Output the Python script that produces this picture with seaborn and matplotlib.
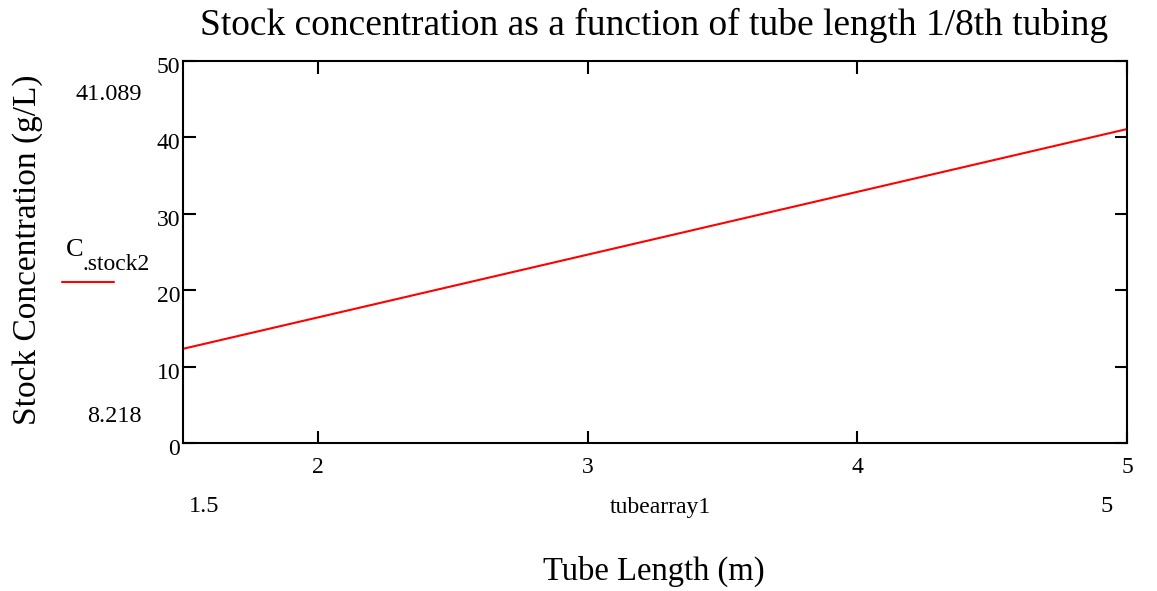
import numpy as np
import pandas as pd
import seaborn as sns
import matplotlib.pyplot as plt
from matplotlib.lines import Line2D
import matplotlib.transforms as mtransforms

# tube length (m) and stock concentration (g/L)
tube_length = [1.0, 2.0, 3.0, 4.0, 5.0]
c_stock2 = [8.218, 16.436, 24.653, 32.871, 41.089]

x_ticks = [2, 3, 4, 5]
y_ticks = [0, 10, 20, 30, 40, 50]

df = pd.DataFrame({'tube': tube_length, 'conc': c_stock2})

sns.set_style('white')
plt.rcParams['font.family'] = ['Liberation Serif', 'DejaVu Serif']
plt.rcParams['text.color'] = 'black'
plt.rcParams['axes.labelcolor'] = 'black'

W, H = 1157, 591
fig = plt.figure(figsize=(W / 100, H / 100), dpi=100)
ax = fig.add_axes([183 / W, 1 - 443 / H, (1127 - 183) / W, (443 - 61) / H])

sns.lineplot(data=df, x='tube', y='conc', color='red', linewidth=1.5, ax=ax)

ax.set_xlim(1.5, 5)
ax.set_ylim(0, 50)
ax.set_xticks(x_ticks)
ax.set_yticks(y_ticks)
ax.set_xlabel('')
ax.set_ylabel('')
for s in ax.spines.values():
    s.set_linewidth(1.5)
    s.set_color('black')
ax.tick_params(axis='both', direction='in', length=9, width=1.5, labelsize=17,
               top=True, right=True, bottom=True, left=True,
               colors='black', labelcolor='black')
ax.tick_params(axis='x', pad=10)
ax.tick_params(axis='y', pad=2)
off = mtransforms.ScaledTranslation(0, -4 / 100, fig.dpi_scale_trans)
for lab in ax.get_yticklabels():
    lab.set_transform(lab.get_transform() + off)

def fx(px):
    return px / W

def fy(py):
    return 1 - py / H

fig.text(fx(654), fy(25), 'Stock concentration as a function of tube length 1/8th tubing',
         ha='center', va='center', fontsize=27)

fig.text(fx(28), fy(250), 'Stock Concentration (g/L)', rotation=90,
         ha='center', va='center', fontsize=24)
fig.text(fx(654), fy(571), 'Tube Length (m)', ha='center', va='center', fontsize=23.5)

fig.text(fx(142), fy(94), '41.089', ha='right', va='center', fontsize=17.5)
fig.text(fx(142), fy(416), '8.218', ha='right', va='center', fontsize=17.5)
fig.text(fx(204), fy(507), '1.5', ha='center', va='center', fontsize=17.5)
fig.text(fx(660), fy(507), 'tubearray1', ha='center', va='center', fontsize=17)
fig.text(fx(1107), fy(507), '5', ha='center', va='center', fontsize=17.5)

fig.text(fx(66), fy(250), 'C', ha='left', va='center', fontsize=19)
fig.text(fx(82), fy(264), '.stock2', ha='left', va='center', fontsize=17)
fig.add_artist(Line2D([fx(62), fx(114)], [fy(282), fy(282)], color='red',
                      linewidth=1.5, transform=fig.transFigure))

fig.savefig('out.png', dpi=100)
